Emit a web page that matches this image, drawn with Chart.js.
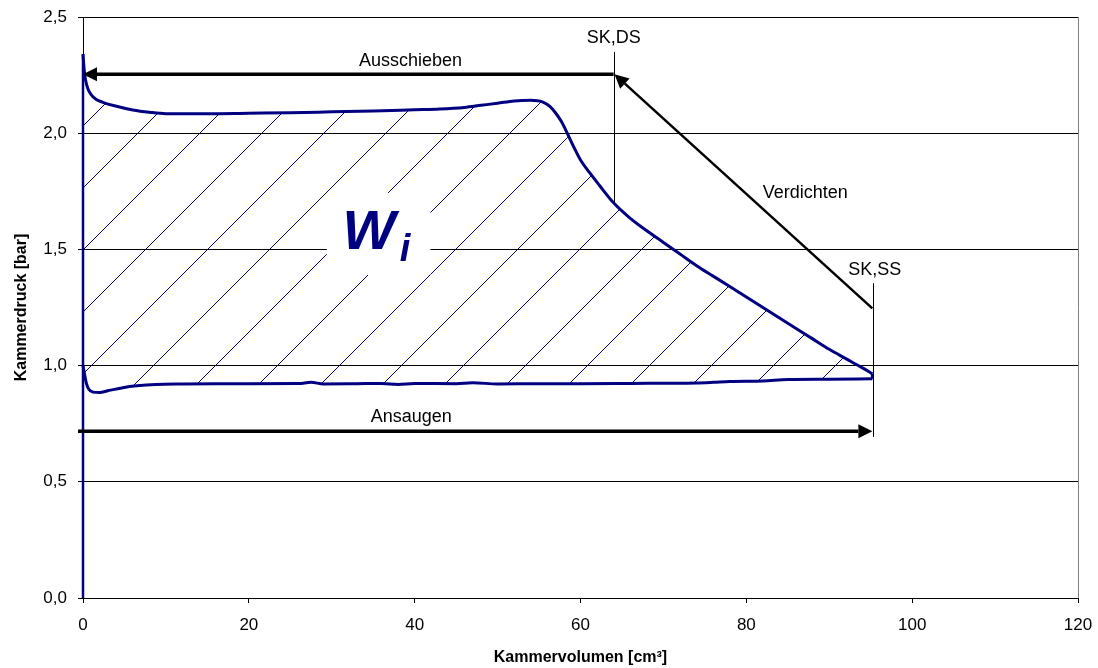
<!DOCTYPE html>
<html>
<head>
<meta charset="utf-8">
<script src="https://cdn.jsdelivr.net/npm/chart.js@4"></script>
<style>
  html, body { margin: 0; padding: 0; background: #fff; }
</style>
</head>
<body>
<canvas id="chart" width="1098" height="668"></canvas>
<script>
// p-V loop of the chamber (Kammervolumen cm³ / Kammerdruck bar)
// upper branch: Ausschieben plateau + Verdichten/Expansion
const topVol = [0, 0.15, 0.3, 0.6, 1.0, 1.6, 2.4, 3.8, 6, 8, 10, 15, 20, 25, 30, 35, 40, 43, 46, 48, 50, 52, 54, 55.4, 56.3, 57.0, 57.7, 58.4, 59.2, 60, 61.1, 62.3, 63.9, 65.9, 68, 70, 72, 74, 76, 78, 80, 82, 84, 86, 88, 90, 92, 94, 95.2];
const topPress = [2.34, 2.27, 2.23, 2.19, 2.165, 2.145, 2.133, 2.118, 2.10, 2.09, 2.084, 2.084, 2.086, 2.088, 2.092, 2.096, 2.101, 2.104, 2.111, 2.12, 2.129, 2.139, 2.142, 2.135, 2.115, 2.087, 2.05, 2.0, 1.94, 1.885, 1.83, 1.775, 1.704, 1.637, 1.58, 1.53, 1.48, 1.43, 1.385, 1.34, 1.295, 1.25, 1.205, 1.16, 1.115, 1.07, 1.03, 0.99, 0.965];

// lower branch: Ansaugen
const bottomVol = [0, 0.2, 0.4, 0.7, 1.2, 2, 3, 4.8, 6.5, 8.8, 12, 16, 20, 26, 27.5, 29, 33, 36, 38, 40, 45, 47, 50, 55, 60, 66, 70, 74, 76, 78, 82, 85, 90, 95.2];
const bottomPress = [1.0, 0.96, 0.925, 0.898, 0.886, 0.884, 0.892, 0.905, 0.913, 0.919, 0.921, 0.922, 0.922, 0.923, 0.928, 0.921, 0.922, 0.923, 0.919, 0.923, 0.922, 0.926, 0.921, 0.922, 0.922, 0.923, 0.924, 0.925, 0.928, 0.932, 0.934, 0.94, 0.941, 0.943];

// vertical trace at V = 0 and closing segment at SK,SS
const spikeVol = [0, 0];
const spikePress = [0, 2.34];
const closeVol = [95.2, 95.2];
const closePress = [0.943, 0.965];

// axis ticks
const xTicks = [0, 20, 40, 60, 80, 100, 120];
const yTicks = [0, 0.5, 1.0, 1.5, 2.0, 2.5];

// annotations (data units)
const arrows = [
  { from: [64.0, 2.254], to: [0, 2.254], width: 3.5 },     // Ausschieben
  { from: [95.2, 1.246], to: [64.1, 2.254], width: 2.5 },  // Verdichten
  { from: [-0.6, 0.717], to: [95.2, 0.717], width: 3.5 }   // Ansaugen
];
const markerLines = [
  { x: 64.05, y0: 1.70, y1: 2.35 },
  { x: 95.3, y0: 0.693, y1: 1.355 }
];
const labels = [
  { text: 'Ausschieben', x: 39.5, y: 2.311 },
  { text: 'SK,DS', x: 64.0, y: 2.41 },
  { text: 'Verdichten', x: 87.1, y: 1.743 },
  { text: 'SK,SS', x: 95.5, y: 1.411 },
  { text: 'Ansaugen', x: 39.6, y: 0.779 }
];
const wBox = [29.4, 1.39, 41.9, 1.743];

const NAVY = '#000080';

function toPoints(xs, ys) {
  return xs.map((v, i) => ({ x: v, y: ys[i] }));
}

const canvas = document.getElementById('chart');
const ctx = canvas.getContext('2d');

// diagonal hatch for the work area W_i
function makeHatch() {
  const s = 62, phase = 23;
  const tile = document.createElement('canvas');
  tile.width = s; tile.height = s;
  const g = tile.getContext('2d');
  g.strokeStyle = NAVY;
  g.lineWidth = 1;
  for (let k = -1; k <= 2; k++) {
    const d = phase + k * s;
    g.beginPath();
    g.moveTo(-s, d + s);
    g.lineTo(d + s, -s);
    g.stroke();
  }
  return ctx.createPattern(tile, 'repeat');
}

function drawArrow(c, x1, y1, x2, y2, w) {
  const ang = Math.atan2(y2 - y1, x2 - x1);
  const len = 14, half = 7;
  const bx = x2 - Math.cos(ang) * len, by = y2 - Math.sin(ang) * len;
  c.strokeStyle = '#000';
  c.lineWidth = w;
  c.beginPath();
  c.moveTo(x1, y1);
  c.lineTo(bx, by);
  c.stroke();
  c.fillStyle = '#000';
  c.beginPath();
  c.moveTo(x2, y2);
  c.lineTo(bx + Math.sin(ang) * half, by - Math.cos(ang) * half);
  c.lineTo(bx - Math.sin(ang) * half, by + Math.cos(ang) * half);
  c.closePath();
  c.fill();
}

const annotate = {
  id: 'annotate',
  afterDatasetsDraw(chart) {
    const c = chart.ctx;
    const sx = chart.scales.x, sy = chart.scales.y;
    const px = v => sx.getPixelForValue(v);
    const py = v => sy.getPixelForValue(v);
    c.save();

    // white box behind W_i
    c.fillStyle = '#fff';
    c.fillRect(px(wBox[0]), py(wBox[3]), px(wBox[2]) - px(wBox[0]), py(wBox[1]) - py(wBox[3]));

    c.fillStyle = NAVY;
    c.textAlign = 'left';
    c.textBaseline = 'alphabetic';
    c.font = 'italic bold 56px "Liberation Sans", Arial, sans-serif';
    c.fillText('W', px(31.3), py(1.502));
    c.font = 'italic bold 38px "Liberation Sans", Arial, sans-serif';
    c.fillText('i', px(38.2), py(1.45));

    // thin marker lines at SK,DS and SK,SS
    c.strokeStyle = '#000';
    c.lineWidth = 1;
    markerLines.forEach(m => {
      const x = Math.round(px(m.x)) + 0.5;
      c.beginPath();
      c.moveTo(x, py(m.y0));
      c.lineTo(x, py(m.y1));
      c.stroke();
    });

    arrows.forEach(a => drawArrow(c, px(a.from[0]), py(a.from[1]), px(a.to[0]), py(a.to[1]), a.width));

    c.fillStyle = '#000';
    c.font = '18px "Liberation Sans", Arial, sans-serif';
    c.textAlign = 'center';
    c.textBaseline = 'middle';
    labels.forEach(l => c.fillText(l.text, px(l.x), py(l.y)));
    c.restore();
  }
};

const lineStyle = {
  showLine: true,
  borderColor: NAVY,
  borderWidth: 3,
  pointRadius: 0,
  pointHoverRadius: 0,
  clip: false
};

new Chart(ctx, {
  type: 'scatter',
  data: {
    datasets: [
      Object.assign({}, lineStyle, {
        label: 'oben',
        data: toPoints(topVol, topPress),
        cubicInterpolationMode: 'monotone',
        fill: '+1',
        backgroundColor: makeHatch()
      }),
      Object.assign({}, lineStyle, {
        label: 'unten',
        data: toPoints(bottomVol, bottomPress),
        cubicInterpolationMode: 'monotone',
        fill: false
      }),
      Object.assign({}, lineStyle, {
        label: 'V0',
        data: toPoints(spikeVol, spikePress),
        borderWidth: 2.5,
        fill: false
      }),
      Object.assign({}, lineStyle, {
        label: 'SS',
        data: toPoints(closeVol, closePress),
        fill: false
      })
    ]
  },
  options: {
    responsive: false,
    animation: false,
    devicePixelRatio: 1,
    layout: { padding: { top: 17, right: 20, left: 0, bottom: 0 } },
    plugins: {
      legend: { display: false },
      tooltip: { enabled: false }
    },
    scales: {
      x: {
        type: 'linear',
        min: 0,
        max: 120,
        afterBuildTicks: s => { s.ticks = xTicks.map(v => ({ value: v })); },
        afterFit: s => { s.height = 70; s.paddingLeft = 0; s.paddingRight = 0; },
        grid: {
          color: c => (c.tick && c.tick.value === 120) ? '#808080' : 'rgba(0,0,0,0)',
          tickColor: '#000',
          tickLength: 5
        },
        border: { color: '#000', width: 1 },
        ticks: {
          color: '#000',
          padding: 12,
          maxRotation: 0,
          font: { family: '"Liberation Sans", Arial, sans-serif', size: 17 }
        },
        title: {
          display: true,
          text: 'Kammervolumen [cm³]',
          color: '#000',
          padding: { top: 0, bottom: 1 },
          font: { family: '"Liberation Sans", Arial, sans-serif', size: 16, weight: 'bold' }
        }
      },
      y: {
        type: 'linear',
        min: 0,
        max: 2.5,
        afterBuildTicks: s => { s.ticks = yTicks.map(v => ({ value: v })); },
        afterFit: s => { s.width = 83; s.paddingTop = 0; s.paddingBottom = 0; },
        grid: { color: '#000', tickColor: '#000', tickLength: 5 },
        border: { color: '#000', width: 1 },
        ticks: {
          color: '#000',
          padding: 11,
          callback: v => v.toFixed(1).replace('.', ','),
          font: { family: '"Liberation Sans", Arial, sans-serif', size: 17 }
        },
        title: {
          display: true,
          text: 'Kammerdruck [bar]',
          color: '#000',
          padding: { top: 12, bottom: 0 },
          font: { family: '"Liberation Sans", Arial, sans-serif', size: 16, weight: 'bold' }
        }
      }
    }
  },
  plugins: [annotate]
});
</script>
</body>
</html>
